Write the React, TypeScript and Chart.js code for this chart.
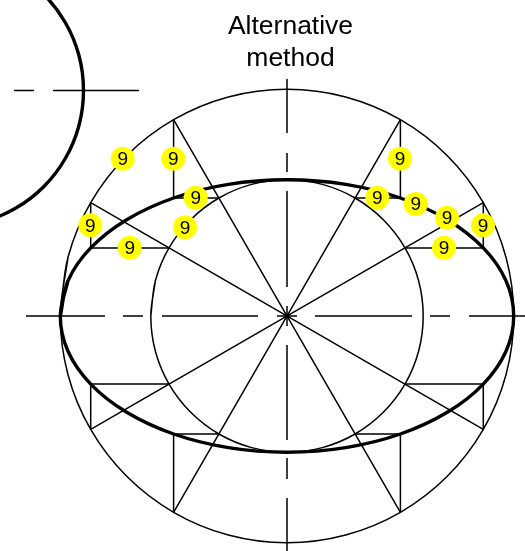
import React, { useEffect, useRef } from "react";
import { Chart, registerables } from "chart.js";

Chart.register(...registerables);

type Pair = [number, number];

// Drawing units: one unit is one pixel of the reference, origin at the shared centre, y upwards.
const titleLines = ["Alternative", "method"];
const badgeLabel = "9";

const outerCircle: Pair[] = [
  [-226.7, 0], [-219, 58.7], [-196.3, 113.4], [-160.3, 160.3], [-113.4, 196.3], [-58.7, 219], [0, 226.7],
  [58.7, 219], [113.4, 196.3], [160.3, 160.3], [196.3, 113.4], [219, 58.7], [226.7, 0],
  [219, -58.7], [196.3, -113.4], [160.3, -160.3], [113.4, -196.3], [58.7, -219], [0, -226.7],
  [-58.7, -219], [-113.4, -196.3], [-160.3, -160.3], [-196.3, -113.4], [-219, -58.7], [-226.7, 0], [-219, 58.7],
];

const innerCircle: Pair[] = [
  [-136.2, 0], [-131.6, 35.3], [-118, 68.1], [-96.3, 96.3], [-68.1, 118], [-35.3, 131.6], [0, 136.2],
  [35.3, 131.6], [68.1, 118], [96.3, 96.3], [118, 68.1], [131.6, 35.3], [136.2, 0],
  [131.6, -35.3], [118, -68.1], [96.3, -96.3], [68.1, -118], [35.3, -131.6], [0, -136.2],
  [-35.3, -131.6], [-68.1, -118], [-96.3, -96.3], [-118, -68.1], [-131.6, -35.3], [-136.2, 0], [-131.6, 35.3],
];

const ellipseOutline: Pair[] = [
  [-226.7, 0], [-219, 35.3], [-196.3, 68.1], [-160.3, 96.3], [-113.4, 118], [-58.7, 131.6], [0, 136.2],
  [58.7, 131.6], [113.4, 118], [160.3, 96.3], [196.3, 68.1], [219, 35.3], [226.7, 0],
  [219, -35.3], [196.3, -68.1], [160.3, -96.3], [113.4, -118], [58.7, -131.6], [0, -136.2],
  [-58.7, -131.6], [-113.4, -118], [-160.3, -96.3], [-196.3, -68.1], [-219, -35.3], [-226.7, 0], [-219, 35.3],
];

const cornerArc: Pair[] = [
  [-339.5, 361.5], [-304.3, 356.9], [-271.5, 343.3], [-243.3, 321.7], [-221.7, 293.5], [-208.1, 260.7],
  [-203.5, 225.5], [-208.1, 190.3], [-221.7, 157.5], [-243.3, 129.3], [-271.5, 107.7], [-304.3, 94.1], [-339.5, 89.5],
];

const spokes: Pair[][] = [
  [[-113.4, 196.3], [113.4, -196.3]],
  [[113.4, 196.3], [-113.4, -196.3]],
  [[-196.3, 113.4], [196.3, -113.4]],
  [[196.3, 113.4], [-196.3, -113.4]],
];

const projectors: Pair[][] = [
  [[-113.4, 196.3], [-113.4, 118], [-68.1, 118]],
  [[113.4, 196.3], [113.4, 118], [68.1, 118]],
  [[-113.4, -196.3], [-113.4, -118], [-68.1, -118]],
  [[113.4, -196.3], [113.4, -118], [68.1, -118]],
  [[-196.3, 113.4], [-196.3, 68.1], [-118, 68.1]],
  [[196.3, 113.4], [196.3, 68.1], [118, 68.1]],
  [[-196.3, -113.4], [-196.3, -68.1], [-118, -68.1]],
  [[196.3, -113.4], [196.3, -68.1], [118, -68.1]],
];

const centreHorizontal: Pair[][] = [
  [[-261, 0], [-182, 0]], [[-164, 0], [-144, 0]], [[-125, 0], [-29, 0]], [[-10, 0], [10, 0]],
  [[28, 0], [125, 0]], [[143, 0], [163, 0]], [[182, 0], [238, 0]],
];

const centreVertical: Pair[][] = [
  [[0, 237], [0, 183]], [[0, 163], [0, 144]], [[0, 125], [0, 29]], [[0, 10], [0, -10]],
  [[0, -29], [0, -124]], [[0, -142], [0, -163]], [[0, -182], [0, -235]],
];

const cornerAxis: Pair[][] = [
  [[-273, 225.5], [-253, 225.5]],
  [[-234, 225.5], [-148, 225.5]],
];

const badges: Pair[] = [
  [-164.3, 157.3], [-113.7, 157.3], [-91.3, 118.3], [-196.7, 90.7], [-102, 88.7], [-157.3, 68.3],
  [113, 157.3], [90.3, 118.3], [128.7, 112], [160, 98.3], [196, 90.7], [157, 68.3],
];

const toPoints = (pairs: Pair[]) => pairs.map(([x, y]) => ({ x, y }));
const joinSegments = (segments: Pair[][]) =>
  segments.flatMap((s) => [...toPoints(s), { x: NaN, y: NaN }]);

const TEXT_FONT = '"Liberation Sans", Arial, sans-serif';

const textPlugin = {
  id: "drawingText",
  afterDatasetsDraw(chart: any) {
    const { ctx, scales } = chart;
    ctx.save();
    ctx.fillStyle = "#000";
    ctx.textAlign = "center";
    ctx.textBaseline = "alphabetic";
    ctx.font = `26.5px ${TEXT_FONT}`;
    titleLines.forEach((line, i) => {
      ctx.fillText(line, scales.x.getPixelForValue(3.5), scales.y.getPixelForValue(282.5 - i * 32));
    });
    ctx.font = `19px ${TEXT_FONT}`;
    ctx.textBaseline = "middle";
    badges.forEach(([x, y]) => {
      ctx.fillText(badgeLabel, scales.x.getPixelForValue(x), scales.y.getPixelForValue(y) + 1);
    });
    ctx.restore();
  },
};

export default function App() {
  const ref = useRef<HTMLCanvasElement>(null);

  useEffect(() => {
    if (!ref.current) return;
    const line = (data: any[], width: number, color = "#000", tension = 0) => ({
      type: "scatter" as const,
      data,
      showLine: true,
      borderColor: color,
      borderWidth: width,
      tension,
      pointRadius: 0,
      pointHoverRadius: 0,
      fill: false,
      spanGaps: false,
    });
    const chart = new Chart(ref.current, {
      type: "scatter",
      data: {
        datasets: [
          {
            data: toPoints(badges),
            showLine: false,
            pointRadius: 12,
            pointHoverRadius: 12,
            pointBackgroundColor: "#ffff00",
            pointBorderWidth: 0,
          },
          line(toPoints(ellipseOutline), 3.4, "#000", 0.34),
          line(toPoints(cornerArc), 3.4, "#000", 0.34),
          line(toPoints(outerCircle), 1.5, "#000", 0.34),
          line(toPoints(innerCircle), 1.5, "#000", 0.34),
          line(joinSegments(spokes), 1.5),
          line(joinSegments(projectors), 1.5),
          line(joinSegments(centreHorizontal), 1.5),
          line(joinSegments(centreVertical), 1.5),
          line(joinSegments(cornerAxis), 1.5),
        ] as any,
      },
      options: {
        animation: false,
        responsive: false,
        devicePixelRatio: 1,
        layout: { padding: 0, autoPadding: false },
        plugins: { legend: { display: false }, tooltip: { enabled: false }, title: { display: false } },
        events: [],
        scales: {
          x: { type: "linear", min: -287, max: 238, display: false },
          y: { type: "linear", min: -235, max: 316, display: false },
        },
      },
      plugins: [textPlugin],
    });
    return () => chart.destroy();
  }, []);

  return (
    <div style={{ position: "absolute", left: 0, top: 0, width: 525, height: 551, background: "#fff" }}>
      <canvas ref={ref} width={525} height={551} style={{ display: "block" }} />
    </div>
  );
}
